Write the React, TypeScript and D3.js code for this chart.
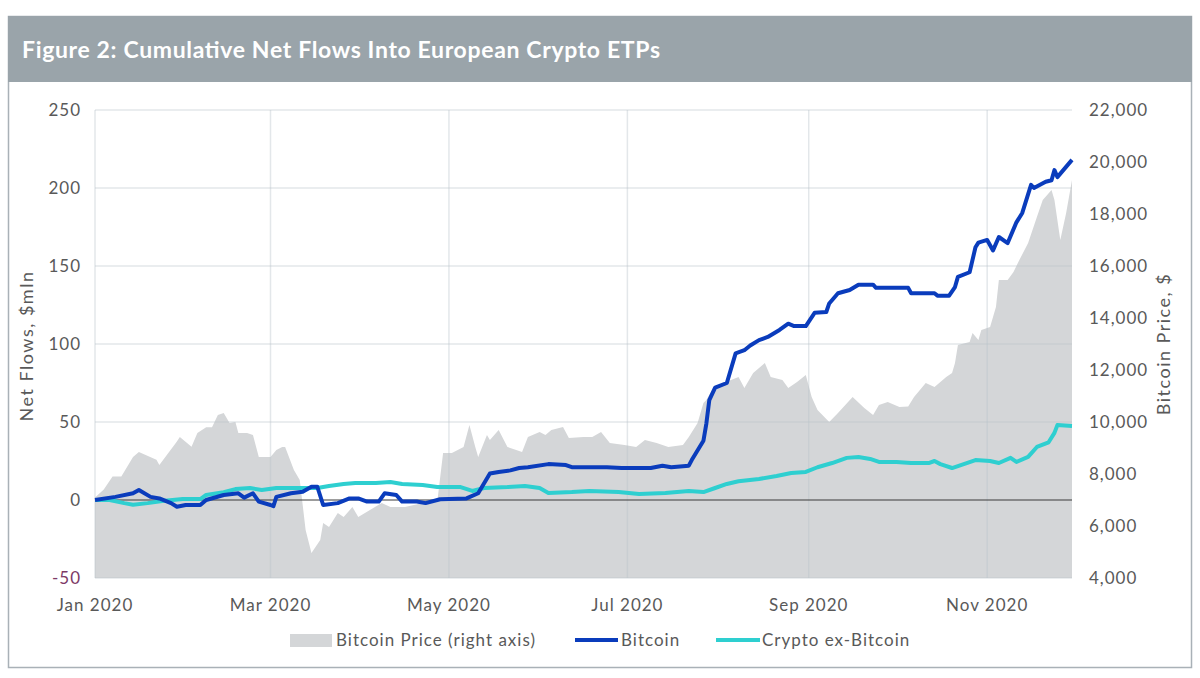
import * as d3 from "d3";

// Bitcoin price, USD (right axis)
const priceDates = [
  "2020-01-01", "2020-01-04", "2020-01-07", "2020-01-10", "2020-01-14", "2020-01-16", "2020-01-22", "2020-01-23",
  "2020-01-29", "2020-01-30", "2020-02-03", "2020-02-05", "2020-02-08", "2020-02-10", "2020-02-12", "2020-02-14",
  "2020-02-16", "2020-02-18", "2020-02-19", "2020-02-22", "2020-02-24", "2020-02-26", "2020-03-01", "2020-03-03",
  "2020-03-05", "2020-03-06", "2020-03-09", "2020-03-11", "2020-03-13", "2020-03-15", "2020-03-18", "2020-03-19",
  "2020-03-21", "2020-03-24", "2020-03-26", "2020-03-29", "2020-03-31", "2020-04-04", "2020-04-08", "2020-04-11",
  "2020-04-16", "2020-04-22", "2020-04-27", "2020-04-29", "2020-05-02", "2020-05-06", "2020-05-08", "2020-05-10",
  "2020-05-11", "2020-05-14", "2020-05-15", "2020-05-18", "2020-05-21", "2020-05-24", "2020-05-26", "2020-05-28",
  "2020-06-01", "2020-06-03", "2020-06-05", "2020-06-09", "2020-06-11", "2020-06-16", "2020-06-19", "2020-06-22",
  "2020-06-25", "2020-06-30", "2020-07-04", "2020-07-07", "2020-07-11", "2020-07-15", "2020-07-20", "2020-07-22",
  "2020-07-25", "2020-07-27", "2020-07-28", "2020-07-30", "2020-08-05", "2020-08-08", "2020-08-10", "2020-08-13",
  "2020-08-17", "2020-08-19", "2020-08-23", "2020-08-25", "2020-08-28", "2020-08-31", "2020-09-02", "2020-09-04",
  "2020-09-08", "2020-09-11", "2020-09-16", "2020-09-20", "2020-09-23", "2020-09-25", "2020-09-28", "2020-10-02",
  "2020-10-05", "2020-10-07", "2020-10-11", "2020-10-14", "2020-10-18", "2020-10-20", "2020-10-21", "2020-10-22",
  "2020-10-26", "2020-10-27", "2020-10-29", "2020-10-30", "2020-11-02", "2020-11-04", "2020-11-05", "2020-11-08",
  "2020-11-10", "2020-11-12", "2020-11-15", "2020-11-18", "2020-11-20", "2020-11-23", "2020-11-24", "2020-11-26",
  "2020-11-28", "2020-11-30",
];
const priceValues = [
  7100, 7400, 7900, 7900, 8650, 8850, 8550, 8350,
  9250, 9420, 9050, 9580, 9800, 9800, 10270, 10350,
  9960, 10000, 9580, 9580, 9500, 8650, 8650, 8920,
  9040, 9040, 8150, 7770, 5850, 4960, 5460, 6115,
  5960, 6500, 6350, 6730, 6350, 6620, 6880, 6730,
  6730, 6880, 6920, 8810, 8810, 9040, 9880, 9040,
  8650, 9500, 9310, 9690, 9040, 8920, 8850, 9420,
  9615, 9500, 9690, 9810, 9380, 9420, 9420, 9615,
  9190, 9115, 9040, 9310, 9190, 9040, 9115, 9420,
  9960, 10730, 10850, 11230, 11600, 11730, 11310, 11880,
  12270, 11730, 11615, 11310, 11540, 11810, 10960, 10460,
  10000, 10350, 10960, 10540, 10270, 10650, 10770, 10580,
  10600, 10960, 11500, 11350, 11730, 11880, 12270, 12960,
  13080, 13420, 13150, 13540, 13650, 14420, 15460, 15460,
  15770, 16230, 16880, 17880, 18540, 18920, 18540, 17000,
  18040, 19310,
];

// Cumulative net flows, $mln - Bitcoin ETPs
const btcDates = [
  "2020-01-01", "2020-01-08", "2020-01-14", "2020-01-16", "2020-01-20", "2020-01-23", "2020-01-27", "2020-01-29",
  "2020-02-01", "2020-02-06", "2020-02-08", "2020-02-14", "2020-02-19", "2020-02-21", "2020-02-24", "2020-02-26",
  "2020-03-01", "2020-03-02", "2020-03-03", "2020-03-08", "2020-03-12", "2020-03-15", "2020-03-17", "2020-03-19",
  "2020-03-24", "2020-03-28", "2020-03-31", "2020-04-03", "2020-04-07", "2020-04-09", "2020-04-13", "2020-04-15",
  "2020-04-20", "2020-04-23", "2020-04-28", "2020-05-07", "2020-05-11", "2020-05-15", "2020-05-18", "2020-05-22",
  "2020-05-25", "2020-05-28", "2020-06-04", "2020-06-10", "2020-06-12", "2020-06-18", "2020-06-24", "2020-06-29",
  "2020-07-09", "2020-07-13", "2020-07-16", "2020-07-22", "2020-07-23", "2020-07-27", "2020-07-28", "2020-07-29",
  "2020-07-31", "2020-08-04", "2020-08-07", "2020-08-10", "2020-08-12", "2020-08-15", "2020-08-18", "2020-08-22",
  "2020-08-25", "2020-08-27", "2020-08-31", "2020-09-03", "2020-09-07", "2020-09-08", "2020-09-11", "2020-09-15",
  "2020-09-18", "2020-09-23", "2020-09-24", "2020-10-05", "2020-10-06", "2020-10-14", "2020-10-15", "2020-10-19",
  "2020-10-21", "2020-10-22", "2020-10-26", "2020-10-28", "2020-10-29", "2020-11-01", "2020-11-03", "2020-11-05",
  "2020-11-08", "2020-11-11", "2020-11-13", "2020-11-16", "2020-11-17", "2020-11-21", "2020-11-23", "2020-11-24",
  "2020-11-25", "2020-11-30",
];
const btcFlows = [
  0, 2, 4.3, 6.4, 2, 1, -2, -4.3,
  -3.2, -3.2, 0, 3.2, 4.3, 1.5, 4.3, -1,
  -3.2, -4, 2, 4.3, 5.3, 8.5, 8.5, -3.2,
  -2, 1, 1, -1, -1, 4.3, 3.2, -1,
  -1, -2, 0.5, 1, 4.3, 17, 18, 19,
  20.5, 21, 23, 22.4, 21, 21, 21, 20.5,
  20.5, 22, 21, 22, 25.6, 38, 49, 64,
  72, 75, 94, 96, 99, 102.5, 104.5, 109,
  113, 111.5, 111.5, 120, 120.5, 126, 132.5, 134.6,
  138, 138, 136, 136, 132.5, 132.5, 131, 131,
  136.5, 143, 146, 162, 165, 166.7, 160, 168.6,
  164.7, 178, 184, 202, 200, 204, 205, 211.5,
  207, 218,
];

// Cumulative net flows, $mln - Crypto ex-Bitcoin ETPs
const exDates = [
  "2020-01-01", "2020-01-06", "2020-01-11", "2020-01-14", "2020-01-19", "2020-01-24", "2020-01-31", "2020-02-06",
  "2020-02-08", "2020-02-14", "2020-02-18", "2020-02-23", "2020-02-27", "2020-03-03", "2020-03-10", "2020-03-17",
  "2020-03-21", "2020-03-26", "2020-03-30", "2020-04-06", "2020-04-11", "2020-04-15", "2020-04-22", "2020-04-27",
  "2020-05-05", "2020-05-09", "2020-05-13", "2020-05-21", "2020-05-27", "2020-06-01", "2020-06-04", "2020-06-12",
  "2020-06-18", "2020-06-28", "2020-07-05", "2020-07-14", "2020-07-22", "2020-07-27", "2020-07-31", "2020-08-04",
  "2020-08-08", "2020-08-15", "2020-08-21", "2020-08-26", "2020-08-31", "2020-09-04", "2020-09-09", "2020-09-14",
  "2020-09-18", "2020-09-22", "2020-09-25", "2020-10-01", "2020-10-06", "2020-10-12", "2020-10-14", "2020-10-16",
  "2020-10-20", "2020-10-25", "2020-10-28", "2020-11-02", "2020-11-05", "2020-11-09", "2020-11-11", "2020-11-15",
  "2020-11-18", "2020-11-22", "2020-11-24", "2020-11-25", "2020-11-30",
];
const exFlows = [
  0, 0, -2, -3, -2, -0.6, 0.6, 0.6,
  3.2, 5, 7, 7.7, 6.4, 7.7, 7.7, 7.7,
  9, 10.3, 10.9, 10.9, 11.5, 10.3, 9.6, 8.3,
  8.3, 5.8, 7.7, 8.3, 9, 7.7, 4.5, 5.1,
  5.8, 5.1, 3.8, 4.5, 5.8, 5.1, 7.7, 10.3,
  12, 13.5, 15.4, 17.3, 18, 21, 23.7, 27,
  27.6, 26.3, 24.4, 24.4, 23.7, 23.7, 25, 23,
  20.5, 23.7, 25.6, 25, 23.7, 27, 24.4, 27.6,
  34, 37, 43, 48, 47.5,
];

const leftTicks = [-50, 0, 50, 100, 150, 200, 250];
const rightTicks = [4000, 6000, 8000, 10000, 12000, 14000, 16000, 18000, 20000, 22000];
const monthTicks = ["2020-01-01", "2020-03-01", "2020-05-01", "2020-07-01", "2020-09-01", "2020-11-01"];

const parse = d3.timeParse("%Y-%m-%d");
const fontFamily = "Lato, 'Open Sans', sans-serif";
const textColor = "#595959";

type Pt = { date: Date; value: number };

function toPoints(dates: string[], values: number[]): Pt[] {
  return dates.map((d, i) => ({ date: parse(d) as Date, value: values[i] }));
}

export default function App() {
  const width = 1200;
  const height = 678;
  const plot = { left: 95, right: 1072, top: 110, bottom: 578 };

  const x = d3
    .scaleTime()
    .domain([parse("2020-01-01") as Date, parse("2020-11-30") as Date])
    .range([plot.left, plot.right]);
  const yL = d3.scaleLinear().domain([-50, 250]).range([plot.bottom, plot.top]);
  const yR = d3.scaleLinear().domain([4000, 22000]).range([plot.bottom, plot.top]);

  const price = toPoints(priceDates, priceValues);
  const btc = toPoints(btcDates, btcFlows);
  const ex = toPoints(exDates, exFlows);

  const area = d3
    .area<Pt>()
    .x((d) => x(d.date))
    .y0(yR(4000))
    .y1((d) => yR(d.value));
  const lineL = d3
    .line<Pt>()
    .x((d) => x(d.date))
    .y((d) => yL(d.value));

  const fmtR = d3.format(",");
  const fmtMonth = d3.timeFormat("%b %Y");

  return (
    <svg
      width={width}
      height={height}
      style={{ position: "absolute", left: 0, top: 0, background: "#fff" }}
      fontFamily={fontFamily}
    >
      {/* frame + title bar */}
      <rect x={8.5} y={16.5} width={1183} height={651} fill="#fff" stroke="#a9b1b7" strokeWidth={1.5} />
      <rect x={8} y={16} width={1184} height={66} fill="#9aa4aa" />
      <text x={22} y={58} fill="#fff" fontSize={23} fontWeight={700} textLength={638} lengthAdjust="spacing">
        Figure 2: Cumulative Net Flows Into European Crypto ETPs
      </text>

      {/* price area */}
      <path d={area(price) || ""} fill="#d4d6d8" />

      {/* gridlines */}
      {leftTicks.map((t) =>
        t === 0 ? null : (
          <line
            key={`h${t}`}
            x1={plot.left}
            x2={plot.right}
            y1={yL(t)}
            y2={yL(t)}
            stroke="#b9c2ca"
            strokeOpacity={0.4}
            strokeWidth={1.5}
          />
        ),
      )}
      {monthTicks.map((m) => (
        <line
          key={`v${m}`}
          x1={x(parse(m) as Date)}
          x2={x(parse(m) as Date)}
          y1={plot.top}
          y2={plot.bottom}
          stroke="#b9c2ca"
          strokeOpacity={0.4}
          strokeWidth={1.5}
        />
      ))}
      <line x1={plot.left} x2={plot.right} y1={yL(0)} y2={yL(0)} stroke="#3a3a3a" strokeWidth={1} />

      {/* flow lines */}
      <path d={lineL(ex) || ""} fill="none" stroke="#2ecfd0" strokeWidth={4} strokeLinejoin="round" />
      <path d={lineL(btc) || ""} fill="none" stroke="#0a3cbc" strokeWidth={4} strokeLinejoin="round" />

      <g fontSize={17} letterSpacing={1} fill={textColor}>
        {/* left axis */}
        {leftTicks.map((t) => (
          <text
            key={`l${t}`}
            x={81}
            y={yL(t)}
            dy="0.35em"
            textAnchor="end"
            fill={t < 0 ? "#7d3a66" : textColor}
          >
            {t}
          </text>
        ))}
        {/* right axis */}
        {rightTicks.map((t) => (
          <text key={`r${t}`} x={1089} y={yR(t)} dy="0.35em">
            {fmtR(t)}
          </text>
        ))}
        {/* x axis */}
        {monthTicks.map((m) => (
          <text key={`x${m}`} x={x(parse(m) as Date)} y={605} dy="0.35em" textAnchor="middle">
            {fmtMonth(parse(m) as Date)}
          </text>
        ))}

        {/* axis titles */}
        <text
          transform={`translate(33,${(plot.top + plot.bottom) / 2 + 2}) rotate(-90)`}
          textAnchor="middle"
          fontSize={18}
          letterSpacing={1.5}
        >
          Net Flows, $mln
        </text>
        <text
          transform={`translate(1170,${(plot.top + plot.bottom) / 2}) rotate(-90)`}
          textAnchor="middle"
          fontSize={18}
          letterSpacing={1.5}
        >
          Bitcoin Price, $
        </text>

        {/* legend */}
        <rect x={290} y={634} width={42} height={13} fill="#d4d6d8" />
        <text x={336} y={640} dy="0.35em">
          Bitcoin Price (right axis)
        </text>
        <line x1={575} x2={618} y1={640} y2={640} stroke="#0a3cbc" strokeWidth={4} />
        <text x={621} y={640} dy="0.35em">
          Bitcoin
        </text>
        <line x1={716} x2={760} y1={640} y2={640} stroke="#2ecfd0" strokeWidth={4} />
        <text x={762} y={640} dy="0.35em">
          Crypto ex-Bitcoin
        </text>
      </g>
    </svg>
  );
}
